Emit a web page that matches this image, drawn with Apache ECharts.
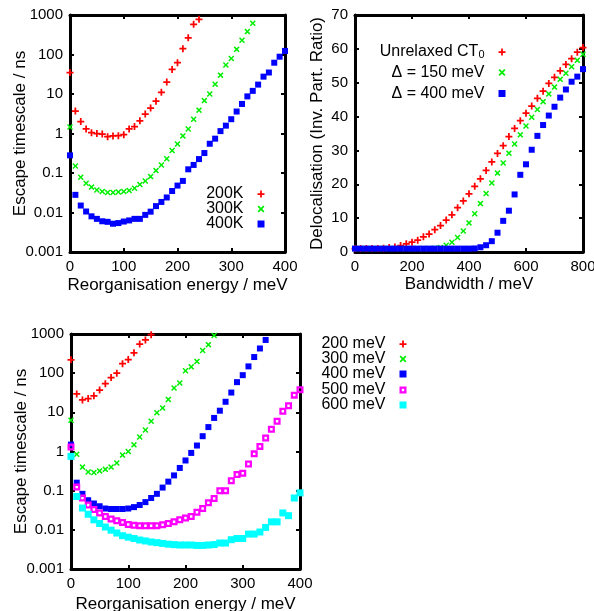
<!DOCTYPE html>
<html>
<head>
<meta charset="utf-8">
<script src="https://cdn.jsdelivr.net/npm/echarts@6/dist/echarts.min.js"></script>
<style>
html, body { margin: 0; padding: 0; background: #fff; }
#myChart { width: 594px; height: 611px; }
</style>
</head>
<body>
<div id="myChart"></div>
<script>
// x values
const energy = [0, 10, 20, 30, 40, 50, 60, 70, 80, 90, 100, 110, 120, 130, 140, 150, 160, 170, 180, 190, 200,
  210, 220, 230, 240, 250, 260, 270, 280, 290, 300, 310, 320, 330, 340, 350, 360, 370, 380, 390, 400]
const bandwidth = [0, 20, 40, 60, 80, 100, 120, 140, 160, 180, 200, 220, 240, 260, 280, 300, 320, 340, 360, 380, 400,
  420, 440, 460, 480, 500, 520, 540, 560, 580, 600, 620, 640, 660, 680, 700, 720, 740, 760, 780, 800]

// top left: escape timescale (ns) vs reorganisation energy, by temperature
const esc200K = [35, 3.7, 2.0, 1.3, 1.05, 1.0, 0.97, 0.83, 0.87, 0.88, 0.93, 1.3, 1.5, 2.1, 3.1, 4.4, 6.6, 11, 20, 42,
  62, 140, 265, 580, 780]
const esc300K = [1.46, 0.15, 0.078, 0.055, 0.044, 0.037, 0.034, 0.032, 0.032, 0.033, 0.034, 0.036, 0.041, 0.051,
  0.063, 0.081, 0.115, 0.16, 0.23, 0.37, 0.54, 0.87, 1.3, 2.3, 3.9, 6.8, 10, 17.6, 30, 54, 79, 135, 230, 380, 620]
const esc400K = [0.28, 0.028, 0.015, 0.0106, 0.008, 0.0069, 0.006, 0.0058, 0.0052, 0.0054, 0.0059, 0.0063, 0.0069,
  0.0069, 0.0087, 0.0105, 0.0145, 0.0185, 0.024, 0.035, 0.048, 0.063, 0.124, 0.16, 0.225, 0.32, 0.55, 0.74, 1.15,
  1.58, 2.3, 3.6, 5.6, 8.7, 12, 17.3, 27.5, 35, 62, 88, 123]

// top right: delocalisation vs bandwidth
const delocUnrelaxed = [1, 1, 1, 1, 1.05, 1.1, 1.3, 1.5, 1.9, 2.4, 2.9, 3.5, 4.5, 5.3, 6.6, 7.8, 9.45, 11.0, 13.1,
  15.1, 17.2, 19.4, 21.6, 24.1, 26.6, 29.1, 31.4, 34.1, 36.5, 38.8, 41.0, 43.1, 45.4, 47.5, 49.8, 51.6, 53.5, 55.4,
  57.1, 59.0, 60.4]
const deloc150 = [1, 1, 1, 1, 1, 1, 1, 1, 1, 1, 1, 1, 1, 1.05, 1.1, 1.3, 2.0, 2.9, 4.3, 6.2, 8.6, 11.3, 14.3, 17.3,
  20.4, 23.3, 26.3, 29.2, 31.9, 34.6, 37.2, 39.8, 42.1, 44.4, 46.7, 48.7, 51.0, 52.8, 54.7, 56.6, 58.4]
const deloc400 = [1, 1, 1, 1, 1, 1, 1, 1, 1, 1, 1, 1, 1, 1, 1, 1, 1, 1, 1, 1, 1, 1.05, 1.4, 2.0, 3.2, 5.7, 9.2,
  12.2, 17.0, 22.8, 25.9, 30.2, 34.3, 37.5, 40.3, 42.9, 45.6, 48.0, 50.3, 51.8, 54.0]

// bottom: escape timescale vs reorganisation energy, by bandwidth
const esc200meV = [220, 29.5, 20.7, 22.4, 26.5, 37, 54, 77, 100, 174, 223, 332, 553, 705, 960]
const esc300meV = [6.3, 0.85, 0.40, 0.30, 0.29, 0.32, 0.35, 0.40, 0.51, 0.81, 1.0, 1.48, 2.35, 3.55, 5.9, 9.8,
  12.9, 21.4, 41.7, 56, 115, 145, 200, 380, 535, 920]
const esc400meV = [1.5, 0.16, 0.083, 0.057, 0.047, 0.040, 0.035, 0.034, 0.034, 0.034, 0.035, 0.038, 0.043, 0.051,
  0.065, 0.083, 0.12, 0.17, 0.245, 0.38, 0.59, 0.92, 1.42, 2.46, 4.2, 7.2, 11, 18.6, 32, 59, 89, 149, 258, 427, 705]
const esc500meV = [1.3, 0.124, 0.065, 0.043, 0.033, 0.027, 0.022, 0.019, 0.017, 0.0155, 0.0137, 0.013, 0.0128,
  0.0127, 0.0127, 0.0128, 0.0135, 0.0145, 0.016, 0.018, 0.020, 0.022, 0.028, 0.035, 0.049, 0.063, 0.10, 0.10, 0.18,
  0.26, 0.28, 0.48, 0.87, 1.35, 2.2, 3.7, 5.9, 10.7, 14.8, 27.5, 38]
const esc600meV = [0.75, 0.071, 0.036, 0.025, 0.018, 0.0145, 0.0118, 0.0098, 0.0083, 0.0071, 0.0065, 0.006, 0.0055,
  0.0052, 0.0049, 0.0047, 0.0045, 0.0043, 0.0042, 0.0041, 0.0041, 0.0041, 0.0040, 0.0040, 0.0041, 0.0042, 0.0046,
  0.0046, 0.0056, 0.006, 0.006, 0.0078, 0.0078, 0.0088, 0.0115, 0.016, 0.016, 0.027, 0.023, 0.065, 0.088]

const FONT = '"Liberation Sans", Arial, sans-serif'
// gnuplot-like point types
const PLUS = 'path://M3,0H5V3H8V5H5V8H3V5H0V3H3Z'
const CROSS = 'path://M0,1.4L1.4,0L4,2.6L6.6,0L8,1.4L5.4,4L8,6.6L6.6,8L4,5.4L1.4,8L0,6.6L2.6,4Z'
const SQUARE = 'path://M0,0H8V8H0Z'
const OPEN_SQUARE = 'path://M0,0H8V8H0Z M2.6,2.6V5.4H5.4V2.6Z'

function pairs(xs, ys) {
  return ys.map((y, i) => [xs[i], y])
}
function logFmt(v) {
  return String(parseFloat(Number(v).toPrecision(3)))
}

// main axis (with labels) and mirror axis (ticks only) for the gnuplot style box
function axis(gridIndex, position, opts, mirror) {
  return Object.assign({
    gridIndex: gridIndex,
    position: position,
    axisLine: { show: true, onZero: false, lineStyle: { color: '#000', width: 3 } },
    axisTick: { show: true, inside: true, length: 4, lineStyle: { color: '#000', width: 2 } },
    axisLabel: { show: !mirror, color: '#000', fontFamily: FONT, fontSize: 15, margin: 7 },
    splitLine: { show: false },
    nameLocation: 'middle',
    nameMoveOverlap: false,
    nameTextStyle: { color: '#000', fontFamily: FONT, fontSize: 17 },
  }, opts, mirror ? { name: '' } : {})
}
function logAxis(gridIndex, position, name, gap, mirror) {
  let a = axis(gridIndex, position, { type: 'log', logBase: 10, min: 0.001, max: 1000, name: name, nameGap: gap }, mirror)
  a.axisLabel.formatter = logFmt
  return a
}

function legendItem(name, right, top) {
  return {
    data: [name],
    right: right,
    top: top,
    orient: 'vertical',
    align: 'right',
    padding: 0,
    itemWidth: 25,
    itemHeight: 7,
    selectedMode: false,
    textStyle: {
      color: '#000', fontFamily: FONT, fontSize: 16,
      rich: {
        a: { color: '#000', fontFamily: FONT, fontSize: 16 },
        s: { color: '#000', fontFamily: FONT, fontSize: 11, verticalAlign: 'bottom', padding: [6, 0, 0, 0] },
      },
    },
    formatter: function (n) {
      return n === 'Unrelaxed CT0' ? '{a|Unrelaxed CT}{s|0}' : n
    },
  }
}

function scatter(name, x, y, data, symbol, size, color) {
  return {
    name: name,
    type: 'scatter',
    xAxisIndex: x,
    yAxisIndex: y,
    data: data,
    symbol: symbol,
    symbolSize: size,
    itemStyle: { color: color, opacity: 1 },
    clip: true,
    silent: true,
  }
}

let myChart = echarts.init(document.getElementById('myChart'), null, { renderer: 'canvas' })
myChart.setOption({
  animation: false,
  backgroundColor: '#fff',
  grid: [
    { left: 70, top: 15, width: 215, height: 237, outerBoundsMode: 'none' },
    { left: 355, top: 15, width: 228, height: 237, outerBoundsMode: 'none' },
    { left: 71, top: 334, width: 229, height: 235, outerBoundsMode: 'none' },
  ],
  xAxis: [
    axis(0, 'bottom', { type: 'value', min: 0, max: 400, interval: 100, name: 'Reorganisation energy / meV', nameGap: 25 }),
    axis(0, 'top', { type: 'value', min: 0, max: 400, interval: 100 }, true),
    axis(1, 'bottom', { type: 'value', min: 0, max: 800, interval: 200, name: 'Bandwidth / meV', nameGap: 24 }),
    axis(1, 'top', { type: 'value', min: 0, max: 800, interval: 200 }, true),
    axis(2, 'bottom', { type: 'value', min: 0, max: 400, interval: 100, name: 'Reorganisation energy / meV', nameGap: 27 }),
    axis(2, 'top', { type: 'value', min: 0, max: 400, interval: 100 }, true),
  ],
  yAxis: [
    logAxis(0, 'left', 'Escape timescale / ns', 41),
    logAxis(0, 'right', '', 0, true),
    axis(1, 'left', { type: 'value', min: 0, max: 70, interval: 10, name: 'Delocalisation (Inv. Part. Ratio)', nameGap: 29 }),
    axis(1, 'right', { type: 'value', min: 0, max: 70, interval: 10 }, true),
    logAxis(2, 'left', 'Escape timescale / ns', 41),
    logAxis(2, 'right', '', 0, true),
  ],
  legend: [
    legendItem('200K', 329.5, 186),
    legendItem('300K', 329.5, 201),
    legendItem('400K', 329.5, 216),
    legendItem('Unrelaxed CT0', 88.5, 44),
    legendItem('Δ = 150 meV', 88.5, 64.5),
    legendItem('Δ = 400 meV', 88.5, 85.5),
    legendItem('200 meV', 187.5, 336),
    legendItem('300 meV', 187.5, 351),
    legendItem('400 meV', 187.5, 366),
    legendItem('500 meV', 187.5, 382),
    legendItem('600 meV', 187.5, 397),
  ],
  series: [
    scatter('200K', 0, 0, pairs(energy, esc200K), PLUS, 7, '#ff0000'),
    scatter('300K', 0, 0, pairs(energy, esc300K), CROSS, 6, '#00ee00'),
    scatter('400K', 0, 0, pairs(energy, esc400K), SQUARE, 6, '#0000ff'),
    scatter('Unrelaxed CT0', 2, 2, pairs(bandwidth, delocUnrelaxed), PLUS, 7, '#ff0000'),
    scatter('Δ = 150 meV', 2, 2, pairs(bandwidth, deloc150), CROSS, 6, '#00ee00'),
    scatter('Δ = 400 meV', 2, 2, pairs(bandwidth, deloc400), SQUARE, 6, '#0000ff'),
    scatter('200 meV', 4, 4, pairs(energy, esc200meV), PLUS, 7, '#ff0000'),
    scatter('300 meV', 4, 4, pairs(energy, esc300meV), CROSS, 6, '#00ee00'),
    scatter('400 meV', 4, 4, pairs(energy, esc400meV), SQUARE, 6, '#0000ff'),
    scatter('500 meV', 4, 4, pairs(energy, esc500meV), OPEN_SQUARE, 7, '#ff00ff'),
    scatter('600 meV', 4, 4, pairs(energy, esc600meV), SQUARE, 7, '#00ffff'),
  ],
})
</script>
</body>
</html>
